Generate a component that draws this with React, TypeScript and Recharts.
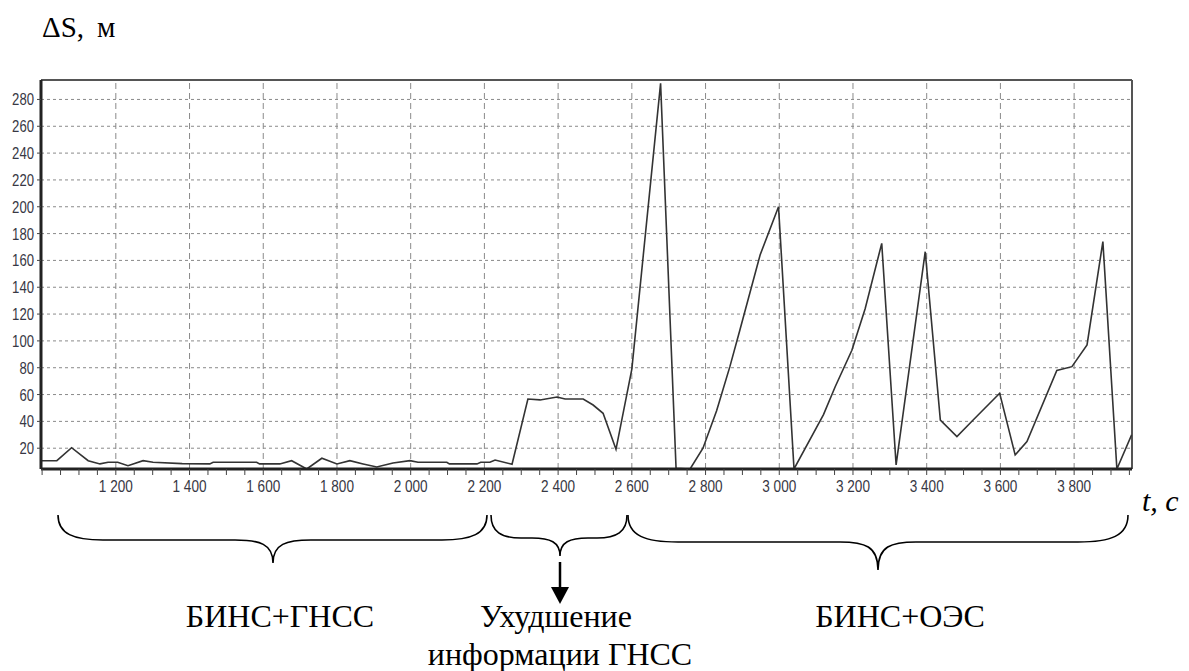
import { LineChart, Line, XAxis, YAxis, CartesianGrid, ReferenceLine } from "recharts"

// time, s
const timeSec = [
  997, 1040, 1080, 1125, 1157, 1179, 1205, 1233, 1274, 1301, 1380, 1455, 1464, 1582, 1590,
  1645, 1677, 1718, 1759, 1800, 1835, 1871, 1908, 1952, 1998, 2020, 2098, 2105, 2180, 2190,
  2215, 2229, 2275, 2318, 2351, 2397, 2419, 2468, 2495, 2522, 2557, 2600, 2678, 2720, 2758,
  2793, 2830, 2866, 2893, 2948, 2998, 3040, 3120, 3152, 3197, 3233, 3278, 3317, 3396, 3437,
  3482, 3526, 3598, 3640, 3672, 3753, 3794, 3835, 3878, 3916, 3956,
]

// position error ΔS, m
const deltaS = [
  10.7, 10.7, 20.4, 10.7, 8.3, 9.5, 9.5, 7, 10.7, 9.5, 8.5, 8.3, 9.5, 9.5, 8.3,
  8.3, 10.7, 4.5, 12.5, 8.3, 10.7, 8.3, 6, 9, 10.7, 9.5, 9.5, 8.3, 8.3, 9.5,
  9.5, 11.2, 8, 56.7, 56, 58.2, 56.7, 56.7, 52.2, 46, 19.2, 79, 292, 5, 4.5,
  20, 48, 80.8, 108, 164, 200, 4.5, 45, 66, 93, 124, 172.7, 7.5, 166.5, 41,
  28.6, 41, 61, 15, 25, 78, 80.8, 97, 174, 4.5, 30,
]

const xTicks = [1200, 1400, 1600, 1800, 2000, 2200, 2400, 2600, 2800, 3000, 3200, 3400, 3600, 3800]
const xMinorTicks = Array.from({ length: 60 }, (_, i) => 1000 + i * 50)
const yTicks = [20, 40, 60, 80, 100, 120, 140, 160, 180, 200, 220, 240, 260, 280]

const X_MIN = 997
const X_MAX = 3957
const Y_MIN = 4.5
const Y_MAX = 294.5

const data = timeSec.map((t, i) => ({ t, ds: deltaS[i] }))

const tickFont = "'Liberation Sans', Arial, sans-serif"
const serif = "'Liberation Serif', 'DejaVu Serif', serif"
const tickColor = "#383844"

const fmt = (v: number) => `${Math.floor(v / 1000)} ${String(v % 1000).padStart(3, "0")}`

function XTick(props: any) {
  const { x, y, payload } = props
  if (!xTicks.includes(payload.value)) return <g />
  return (
    <text x={x} y={y + 15} textAnchor="middle" style={{ fontFamily: tickFont }} fontSize={17} fill={tickColor}
      textLength={34} lengthAdjust="spacingAndGlyphs">
      {fmt(payload.value)}
    </text>
  )
}

function YTick(props: any) {
  const { x, y, payload } = props
  const s = String(payload.value)
  return (
    <text x={x} y={y + 6} textAnchor="end" style={{ fontFamily: tickFont }} fontSize={17} fill={tickColor}
      textLength={s.length * 7.3} lengthAdjust="spacingAndGlyphs">
      {s}
    </text>
  )
}

function brace(x1: number, x2: number, xm: number, yTop: number, yMid: number, yTip: number, r: number, r2: number) {
  return `M${x1},${yTop} C${x1},${yMid - 6} ${x1 + r * 0.35},${yMid} ${x1 + r},${yMid} ` +
    `L${xm - r2},${yMid} C${xm - r2 * 0.35},${yMid} ${xm},${yMid + 4} ${xm},${yTip} ` +
    `C${xm},${yMid + 4} ${xm + r2 * 0.35},${yMid} ${xm + r2},${yMid} ` +
    `L${x2 - r},${yMid} C${x2 - r * 0.35},${yMid} ${x2},${yMid - 6} ${x2},${yTop}`
}

const labelStyle = { fontFamily: serif }

export default function App() {
  return (
    <div style={{ position: "absolute", left: 0, top: 0, width: 1189, height: 671, background: "#fff" }}>
      <LineChart width={1189} height={671} data={data} margin={{ top: 80, right: 57, left: 0, bottom: 172 }}>
        <CartesianGrid vertical={false} stroke="#8a8a8a" strokeDasharray="3 3" />
        {xTicks.map((t) => (
          <ReferenceLine key={t} x={t} stroke="#8a8a8a" strokeDasharray="6 4" />
        ))}
        <ReferenceLine y={Y_MAX} stroke="#555" strokeWidth={2} />
        <ReferenceLine x={X_MAX} stroke="#555" strokeWidth={2} />
        <XAxis
          dataKey="t"
          type="number"
          domain={[X_MIN, X_MAX]}
          ticks={xMinorTicks}
          interval={0}
          allowDataOverflow
          height={30}
          tick={<XTick />}
          tickSize={6}
          axisLine={{ stroke: "#222", strokeWidth: 3 }}
          tickLine={{ stroke: "#444" }}
        />
        <YAxis
          type="number"
          domain={[Y_MIN, Y_MAX]}
          ticks={yTicks}
          interval={0}
          allowDataOverflow
          width={41}
          tickSize={4}
          tickMargin={3}
          axisLine={{ stroke: "#222", strokeWidth: 3 }}
          tickLine={{ stroke: "#444" }}
          tick={<YTick />}
        />
        <Line type="linear" dataKey="ds" stroke="#333" strokeWidth={1.6} dot={false} isAnimationActive={false} />
      </LineChart>

      <svg width={1189} height={671} style={{ position: "absolute", left: 0, top: 0, pointerEvents: "none" }}>
        <text x={42} y={37} style={labelStyle} fontSize={29} fill="#000">
          ΔS,<tspan dx={13}>м</tspan>
        </text>
        <text x={1142} y={511} style={labelStyle} fontSize={30} fontStyle="italic" fill="#000">
          t, c
        </text>

        <path d={brace(58, 487, 273, 515, 540, 563, 45, 38)} fill="none" stroke="#000" strokeWidth={1.6} />
        <path d={brace(491, 627, 560, 515, 538, 556, 30, 28)} fill="none" stroke="#000" strokeWidth={1.6} />
        <path d={brace(628, 1128, 878, 515, 542, 570, 50, 38)} fill="none" stroke="#000" strokeWidth={1.6} />

        <line x1={560} y1={562} x2={560} y2={590} stroke="#000" strokeWidth={2.5} />
        <polygon points="551,587 569,587 560,604" fill="#000" />

        <text x={280} y={627} textAnchor="middle" style={labelStyle} fontSize={32} fill="#000">БИНС+ГНСС</text>
        <text x={556} y={627} textAnchor="middle" style={labelStyle} fontSize={32} fill="#000">Ухудшение</text>
        <text x={560} y={665} textAnchor="middle" style={labelStyle} fontSize={32} fill="#000">информации ГНСС</text>
        <text x={900} y={627} textAnchor="middle" style={labelStyle} fontSize={32} fill="#000">БИНС+ОЭС</text>
      </svg>
    </div>
  )
}
